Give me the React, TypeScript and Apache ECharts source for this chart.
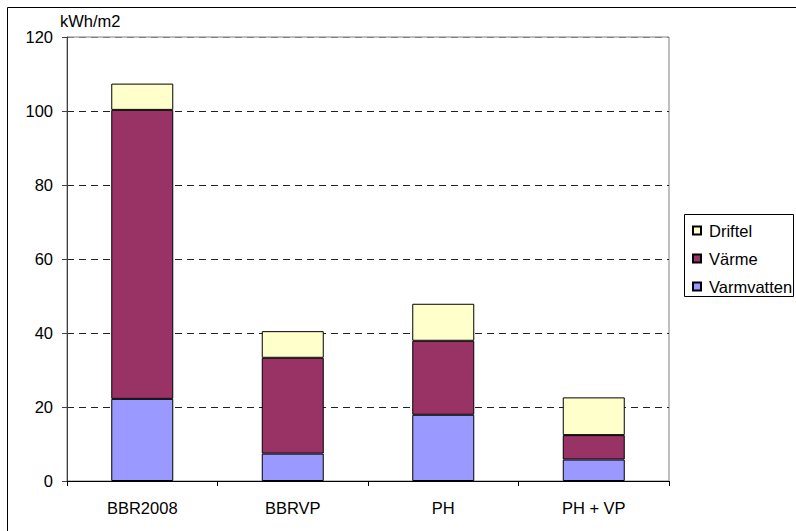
import React, { useEffect, useRef } from "react";
import * as echarts from "echarts";

const categories = ["BBR2008", "BBRVP", "PH", "PH + VP"];
const varmvatten = [22.2, 7.4, 17.9, 5.8];
const varme = [78.1, 25.9, 20.0, 6.6];
const driftel = [7.1, 7.2, 10.0, 10.2];
const yTicks = { min: 0, max: 120, interval: 20 };
const unitLabel = "kWh/m2";
const legendOrder = ["Driftel", "Värme", "Varmvatten"];

const FONT = "Liberation Sans, Arial, sans-serif";
const FS = 16.5;

export default function App() {
  const ref = useRef<HTMLDivElement>(null);
  useEffect(() => {
    document.body.style.margin = "0";
    const chart = echarts.init(ref.current!, null, { renderer: "svg" });
    const barBase = {
      type: "bar" as const,
      stack: "total",
      barWidth: 62,
      itemStyle: { borderColor: "#000", borderWidth: 1 },
      emphasis: { disabled: true },
    };
    chart.setOption({
      animation: false,
      backgroundColor: "#fff",
      textStyle: { fontFamily: FONT },
      grid: { left: 67, right: 127, top: 37, bottom: 50, containLabel: false, show: true, borderColor: "#808080", borderWidth: 1 },
      legend: {
        orient: "vertical",
        left: 692,
        top: 222,
        padding: 0,
        itemWidth: 8,
        itemHeight: 8,
        itemGap: 11,
        data: legendOrder,
        icon: "rect",
        textStyle: { fontFamily: FONT, fontSize: FS, color: "#000", lineHeight: 17, padding: [0, 0, 0, 3] },
      },
      xAxis: {
        type: "category",
        data: categories,
        boundaryGap: true,
        axisLine: { lineStyle: { color: "#000", width: 1 } },
        axisTick: { show: true, length: 5, lineStyle: { color: "#000" }, alignWithLabel: false },
        axisLabel: { color: "#000", fontSize: FS, fontFamily: FONT, margin: 18, interval: 0 },
        splitLine: { show: false },
      },
      yAxis: {
        type: "value",
        min: yTicks.min,
        max: yTicks.max,
        interval: yTicks.interval,
        axisLine: { show: true, lineStyle: { color: "#404040", width: 1 } },
        axisTick: { show: true, length: 5, inside: false, lineStyle: { color: "#404040" } },
        axisLabel: { color: "#000", fontSize: FS, fontFamily: FONT, margin: 14 },
        splitLine: {
          show: true,
          lineStyle: {
            color: ["#000", "#222", "#222", "#222", "#222", "#222", "#808080"],
            type: [7, 5],
            width: 1,
          },
        },
      },
      graphic: [
        {
          type: "rect",
          shape: { x: 7.5, y: 7.5, width: 900, height: 900 },
          style: { fill: "none", stroke: "#000", lineWidth: 1 },
          silent: true,
          z: 100,
        },
        {
          type: "rect",
          shape: { x: 684.5, y: 214.5, width: 109, height: 82 },
          style: { fill: "none", stroke: "#000", lineWidth: 1 },
          silent: true,
          z: 100,
        },
        {
          type: "text",
          x: 60,
          y: 21,
          style: { text: unitLabel, fontSize: FS, fontFamily: FONT, fill: "#000", textVerticalAlign: "middle", textAlign: "left" },
          silent: true,
        },
      ],
      series: [
        { ...barBase, name: "Varmvatten", data: varmvatten, itemStyle: { ...barBase.itemStyle, color: "#9999FF" } },
        { ...barBase, name: "Värme", data: varme, itemStyle: { ...barBase.itemStyle, color: "#993366" } },
        { ...barBase, name: "Driftel", data: driftel, itemStyle: { ...barBase.itemStyle, color: "#FFFFCC" } },
      ],
    });
    return () => chart.dispose();
  }, []);
  return <div ref={ref} style={{ width: 796, height: 531 }} />;
}
